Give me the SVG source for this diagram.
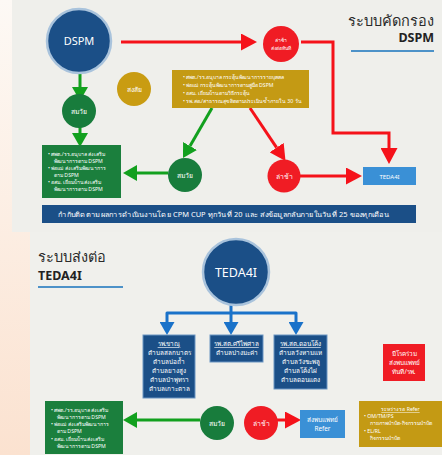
<svg xmlns="http://www.w3.org/2000/svg" width="442" height="455" viewBox="0 0 442 455">
<style>
text{font-family:"Noto Sans","DejaVu Sans",sans-serif;fill:#fff}
.t{font-size:5.2px}
.s{font-size:6.8px;text-anchor:middle}
.b{font-size:6.4px;text-anchor:middle}
.c{text-anchor:middle}
.ttl{fill:#2a2a2a;font-size:14.5px}
.ttlb{fill:#222;font-size:12.5px;font-weight:bold}
.red{stroke:#f5121a;stroke-width:3;fill:none}
.grn{stroke:#12a01e;stroke-width:3;fill:none}
.blu{stroke:#1a72c9;stroke-width:3;fill:none;stroke-linejoin:round}
</style>
<defs>
<linearGradient id="bg" x1="0" y1="0" x2="0" y2="1">
<stop offset="0" stop-color="#fdf9f5"/>
<stop offset="1" stop-color="#fbe2d0"/>
</linearGradient>
<marker id="ar" markerUnits="userSpaceOnUse" markerWidth="16" markerHeight="17" refX="0" refY="8.5" orient="auto" viewBox="0 0 16 17"><path d="M0,0 L16,8.5 L0,17 z" fill="#f5121a"/></marker>
<marker id="ag" markerUnits="userSpaceOnUse" markerWidth="14" markerHeight="16" refX="0" refY="8" orient="auto" viewBox="0 0 14 16"><path d="M0,0 L14,8 L0,16 z" fill="#12a01e"/></marker>
<marker id="ab" markerUnits="userSpaceOnUse" markerWidth="13" markerHeight="15" refX="0" refY="7.5" orient="auto" viewBox="0 0 13 15"><path d="M0,0 L13,7.5 L0,15 z" fill="#1a72c9"/></marker>
</defs>
<rect x="0" y="0" width="442" height="455" fill="url(#bg)"/>
<rect x="12" y="0" width="430" height="232" fill="#efefeb"/>
<rect x="30" y="232" width="412" height="223" fill="#f0f0ec"/>

<g id="title-top">
<text class="ttl" x="434" y="26" text-anchor="end">ระบบคัดกรอง</text>
<text class="ttlb" x="434" y="42" text-anchor="end">DSPM</text>
<line x1="351" y1="51" x2="434" y2="51" stroke="#4d92c8" stroke-width="2"/>
</g>

<g id="connectors">
<path class="red" d="M121,42 H241" marker-end="url(#ar)"/>
<path class="red" d="M301,42 H333 V133 H389 V148" marker-end="url(#ar)"/>
<path class="red" d="M250,108 L276.6,147.6" marker-end="url(#ar)"/>
<path class="red" d="M300,176 H346" marker-end="url(#ar)"/>
<path class="grn" d="M80,73 V87" marker-end="url(#ag)"/>
<path class="grn" d="M80,127 V133" marker-end="url(#ag)"/>
<path class="grn" d="M212,108 L190,146" marker-end="url(#ag)"/>
<path class="grn" d="M168,173 H137" marker-end="url(#ag)"/>
<path class="blu" d="M231,305 V313 H167 V322" marker-end="url(#ab)"/>
<path class="blu" d="M231,313 H296 V322" marker-end="url(#ab)"/>
<path class="blu" d="M231,313 V322" marker-end="url(#ab)"/>
<path class="grn" d="M200,420 H137" marker-end="url(#ag)"/>
<path class="red" d="M277,420 H285" marker-end="url(#ar)"/>
</g>

<g id="dspm">
<circle cx="79" cy="41" r="32" fill="#1b4f87" stroke="#a9c3dc" stroke-width="2.5"/>
<text class="c" x="79" y="45" font-size="11">DSPM</text>
</g>
<g id="delay-top">
<circle cx="281" cy="44" r="18" fill="#f01c24"/>
<text class="c" x="281" y="42" font-size="5">ล่าช้า</text>
<text class="c" x="281" y="50" font-size="5">ส่งต่อทันที</text>
</g>
<g id="suspect">
<circle cx="134" cy="89" r="17" fill="#c99c12"/>
<text class="s" x="134" y="92">สงสัย</text>
</g>
<g id="gold-top">
<rect x="172" y="70" width="137" height="38" fill="#c49a14"/>
<text class="t" x="183" y="79">•  ศพด./รร.อนุบาล กระตุ้นพัฒนาการรายบุคคล</text>
<text class="t" x="183" y="87">•  พ่อแม่ กระตุ้นพัฒนาการตามคู่มือ DSPM</text>
<text class="t" x="183" y="95">•  อสม. เยี่ยมบ้านตามวิธีกระตุ้น</text>
<text class="t" x="183" y="103">•  รพ.สต./สาธารณสุขติดตามประเมินซ้ำภายใน 30 วัน</text>
</g>
<g id="normal-1">
<circle cx="79" cy="111" r="17" fill="#187c3c"/>
<text class="s" x="79" y="114">สมวัย</text>
</g>
<g id="green-top">
<rect x="42" y="145" width="79" height="53" fill="#1b7f3d"/>
<text class="t" x="48" y="156">•  ศพด./รร.อนุบาล ส่งเสริม</text>
<text class="t" x="54" y="163">พัฒนาการตาม DSPM</text>
<text class="t" x="48" y="170">•  พ่อแม่ ส่งเสริมพัฒนาการ</text>
<text class="t" x="54" y="177">ตาม DSPM</text>
<text class="t" x="48" y="184">•  อสม. เยี่ยมบ้านส่งเสริม</text>
<text class="t" x="54" y="191">พัฒนาการตาม DSPM</text>
</g>
<g id="normal-2">
<circle cx="185" cy="175" r="17" fill="#187c3c"/>
<text class="s" x="185" y="178">สมวัย</text>
</g>
<g id="delay-2">
<circle cx="284" cy="176" r="16.5" fill="#f01c24"/>
<text class="s" x="284" y="179">ล่าช้า</text>
</g>
<g id="teda-box">
<rect x="363" y="167" width="53" height="18" fill="#3a90d6"/>
<text class="c" x="389.5" y="178.5" font-size="6">TEDA4I</text>
</g>
<g id="banner">
<rect x="42" y="205" width="374" height="18" fill="#1b4f87"/>
<text class="c" x="223.5" y="216.5" font-size="7" textLength="331" lengthAdjust="spacingAndGlyphs">กำกับติดตามผลการดำเนินงานโดย CPM CUP ทุกวันที่ 20 และ ส่งข้อมูลกลับภายในวันที่ 25 ของทุกเดือน</text>
</g>

<g id="title-bottom">
<text class="ttl" x="38" y="262">ระบบส่งต่อ</text>
<text class="ttlb" x="38" y="280">TEDA4I</text>
<line x1="38" y1="287" x2="123" y2="287" stroke="#4d92c8" stroke-width="2"/>
</g>
<g id="teda">
<circle cx="236" cy="272" r="33" fill="#1b4f87" stroke="#a9c3dc" stroke-width="2.5"/>
<text class="c" x="236" y="277" font-size="12.5">TEDA4I</text>
</g>
<g id="h-khanu">
<rect x="143" y="335" width="52" height="63" fill="#1b4f87" stroke="#6b95c2" stroke-width="1"/>
<text class="b" x="169" y="346" text-decoration="underline">รพ.ขาณุ</text>
<text class="b" x="169" y="355">ตำบลสลกบาตร</text>
<text class="b" x="169" y="364">ตำบลบ่อถ้ำ</text>
<text class="b" x="169" y="373">ตำบลยางสูง</text>
<text class="b" x="169" y="382">ตำบลป่าพุทรา</text>
<text class="b" x="169" y="391">ตำบลเกาะตาล</text>
</g>
<g id="h-sri">
<rect x="210" y="335" width="53" height="27" fill="#1b4f87" stroke="#6b95c2" stroke-width="1"/>
<text class="b" x="236.5" y="346" text-decoration="underline">รพ.สต.ศรีไพศาล</text>
<text class="b" x="236.5" y="355">ตำบลปางมะค่า</text>
</g>
<g id="h-don">
<rect x="274" y="335" width="53" height="54" fill="#1b4f87" stroke="#6b95c2" stroke-width="1"/>
<text class="b" x="300.5" y="346" text-decoration="underline">รพ.สต.ดอนโค้ง</text>
<text class="b" x="300.5" y="355">ตำบลวังหามแห</text>
<text class="b" x="300.5" y="364">ตำบลวังชะพลู</text>
<text class="b" x="300.5" y="373">ตำบลโค้งไผ่</text>
<text class="b" x="300.5" y="382">ตำบลดอนแตง</text>
</g>
<g id="comorbid">
<rect x="383" y="344" width="42" height="37" fill="#f01c24"/>
<text class="b" x="404" y="356">มีโรคร่วม</text>
<text class="b" x="404" y="365">ส่งพบแพทย์</text>
<text class="b" x="404" y="374">ทันที/รพ.</text>
</g>
<g id="green-bottom">
<rect x="45" y="401" width="78" height="53" fill="#1b7f3d"/>
<text class="t" x="51" y="412">•  ศพด./รร.อนุบาล ส่งเสริม</text>
<text class="t" x="57" y="419">พัฒนาการตาม DSPM</text>
<text class="t" x="51" y="426">•  พ่อแม่ ส่งเสริมพัฒนาการ</text>
<text class="t" x="57" y="433">ตาม DSPM</text>
<text class="t" x="51" y="441">•  อสม. เยี่ยมบ้านส่งเสริม</text>
<text class="t" x="57" y="448">พัฒนาการตาม DSPM</text>
</g>
<g id="normal-3">
<circle cx="217" cy="423" r="17" fill="#187c3c"/>
<text class="s" x="217" y="426">สมวัย</text>
</g>
<g id="delay-3">
<circle cx="261" cy="423" r="17" fill="#f01c24"/>
<text class="s" x="261" y="426">ล่าช้า</text>
</g>
<g id="refer">
<rect x="300" y="410" width="45" height="28" fill="#3a90d6"/>
<text class="b" x="322.5" y="422">ส่งพบแพทย์</text>
<text class="b" x="322.5" y="431">Refer</text>
</g>
<g id="gold-bottom">
<rect x="359" y="401" width="83" height="46" fill="#c49a14"/>
<text class="t" x="400.5" y="411" text-anchor="middle" text-decoration="underline">ระหว่างรอ Refer</text>
<text class="t" x="364" y="418">•  OM/TM/PS</text>
<text class="t" x="370" y="425">กายภาพบำบัด-กิจกรรมบำบัด</text>
<text class="t" x="364" y="433">•  EL/RL</text>
<text class="t" x="370" y="440">กิจกรรมบำบัด</text>
</g>
</svg>
